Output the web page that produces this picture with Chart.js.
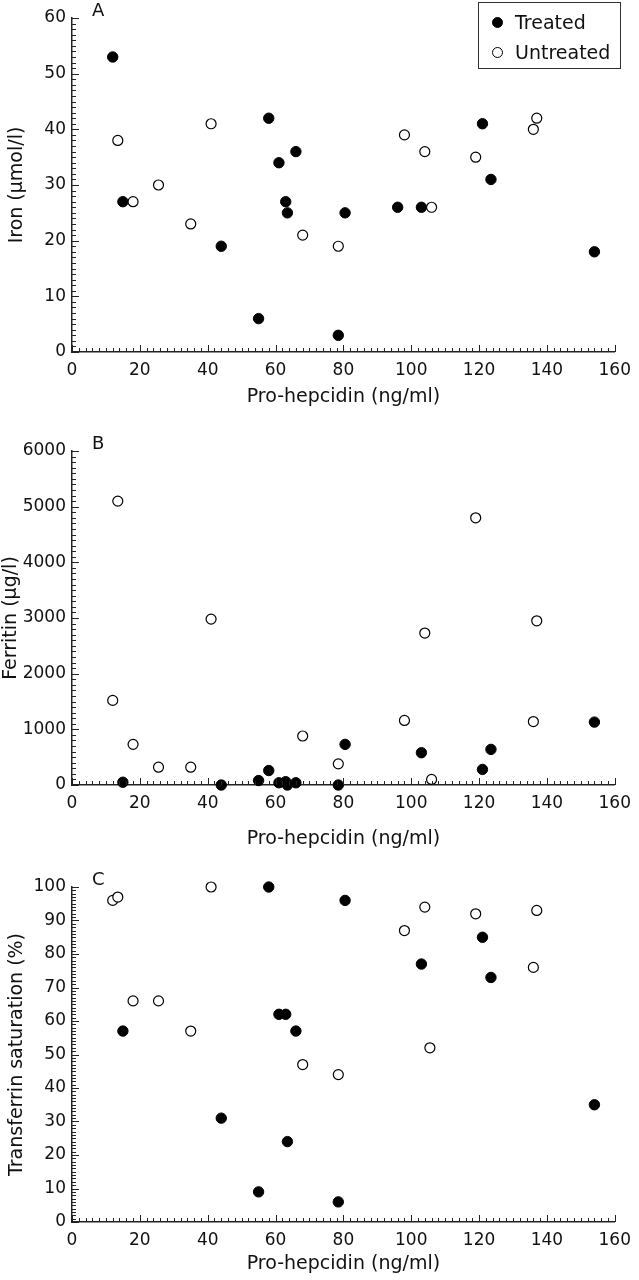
<html>
<head>
<style>
  body { margin: 0; background: #fff; }
  canvas { position: absolute; left: 0; }
  #legend { position: absolute; left: 478px; top: 2px; width: 141px; height: 65px;
            border: 1.5px solid #333; font-family: "DejaVu Sans"; font-size: 19px; color: #111; }
  #legend div { position: absolute; left: 36px; }
  #legend span { position: absolute; left: -23px; width: 9px; height: 9px; border-radius: 50%;
                 border: 1.2px solid #000; }
</style>
</head>
<body>
<canvas id="chartA" width="639" height="420" style="top:0"></canvas>
<canvas id="chartB" width="639" height="430" style="top:433px"></canvas>
<canvas id="chartC" width="639" height="411" style="top:869px"></canvas>
<div id="legend">
  <div style="top:8px"><span style="background:#000;top:6px"></span>Treated</div>
  <div style="top:38px"><span style="background:#fff;top:6px"></span>Untreated</div>
</div>

<script src="https://cdn.jsdelivr.net/npm/chart.js"></script>
<script>
// Panel A: iron vs pro-hepcidin
const ironTreatedX   = [12, 15, 44, 55, 58, 61, 63, 63.5, 66, 78.5, 80.5, 96, 103, 121, 123.5, 154];
const ironTreatedY   = [53, 27, 19, 6, 42, 34, 27, 25, 36, 3, 25, 26, 26, 41, 31, 18];
const ironUntreatedX = [13.5, 18, 25.5, 35, 41, 68, 78.5, 98, 104, 106, 119, 136, 137];
const ironUntreatedY = [38, 27, 30, 23, 41, 21, 19, 39, 36, 26, 35, 40, 42];

// Panel B: ferritin vs pro-hepcidin
const ferrTreatedX   = [15, 44, 55, 58, 61, 63, 63.5, 66, 78.5, 80.5, 103, 121, 123.5, 154];
const ferrTreatedY   = [50, 0, 80, 260, 40, 60, 0, 40, 0, 730, 580, 280, 640, 1130];
const ferrUntreatedX = [12, 13.5, 18, 25.5, 35, 41, 68, 78.5, 98, 104, 106, 119, 136, 137];
const ferrUntreatedY = [1520, 5100, 730, 320, 320, 2980, 880, 380, 1160, 2730, 100, 4800, 1140, 2950];

// Panel C: transferrin saturation vs pro-hepcidin
const satTreatedX    = [15, 44, 55, 58, 61, 63, 63.5, 66, 78.5, 80.5, 103, 121, 123.5, 154];
const satTreatedY    = [57, 31, 9, 100, 62, 62, 24, 57, 6, 96, 77, 85, 73, 35];
const satUntreatedX  = [12, 13.5, 18, 25.5, 35, 41, 68, 78.5, 98, 104, 105.5, 119, 136, 137];
const satUntreatedY  = [96, 97, 66, 66, 57, 100, 47, 44, 87, 94, 52, 92, 76, 93];

const xTicks = [0, 20, 40, 60, 80, 100, 120, 140, 160];
const xTitle = 'Pro-hepcidin (ng/ml)';

const FONT = '"DejaVu Sans"';
const INK = '#111';

function pts(xs, ys) {
  return xs.map((x, i) => ({ x: x, y: ys[i] }));
}

// inward axis ticks + panel letter
const innerTicks = {
  id: 'innerTicks',
  afterDraw(chart, args, o) {
    const { ctx, chartArea: a } = chart;
    const sx = chart.scales.x, sy = chart.scales.y;
    ctx.save();
    ctx.strokeStyle = '#222';
    ctx.lineWidth = 1;
    const nx = Math.round((sx.max - sx.min) / o.xMinor);
    for (let i = 0; i <= nx; i++) {
      const v = sx.min + i * o.xMinor;
      const px = Math.round(sx.getPixelForValue(v)) + 0.5;
      const len = (i % o.xSub === 0) ? 7 : 4;
      ctx.beginPath(); ctx.moveTo(px, a.bottom); ctx.lineTo(px, a.bottom - len); ctx.stroke();
    }
    const ny = Math.round((sy.max - sy.min) / o.yMinor);
    for (let i = 0; i <= ny; i++) {
      const v = sy.min + i * o.yMinor;
      const py = Math.round(sy.getPixelForValue(v)) + 0.5;
      const len = (i % o.ySub === 0) ? 7 : 4;
      ctx.beginPath(); ctx.moveTo(a.left, py); ctx.lineTo(a.left + len, py); ctx.stroke();
    }
    ctx.fillStyle = INK;
    ctx.font = '18px ' + FONT;
    ctx.textBaseline = 'alphabetic';
    ctx.fillText(o.letter, a.left + 20, a.top - 2);
    ctx.restore();
  }
};

function makePanel(id, cfg) {
  return new Chart(document.getElementById(id), {
    type: 'scatter',
    data: {
      datasets: [
        { label: 'Untreated', data: cfg.untreated, backgroundColor: '#fff', borderColor: '#000',
          borderWidth: 1.2, pointRadius: 5, pointHoverRadius: 5, clip: false },
        { label: 'Treated', data: cfg.treated, backgroundColor: '#000', borderColor: '#000',
          borderWidth: 1, pointRadius: 5.2, pointHoverRadius: 5.2, clip: false }
      ]
    },
    options: {
      responsive: false,
      animation: false,
      layout: { padding: { top: 18, right: 17, left: 0, bottom: 0 } },
      plugins: {
        legend: { display: false },
        tooltip: { enabled: false },
        innerTicks: { letter: cfg.letter, xMinor: 2, xSub: 10, yMinor: cfg.yMinor, ySub: cfg.ySub }
      },
      scales: {
        x: {
          type: 'linear', min: 0, max: 160,
          afterBuildTicks: s => { s.ticks = xTicks.map(v => ({ value: v })); },
          afterFit: s => { s.height = cfg.xHeight; },
          ticks: { color: INK, font: { family: FONT, size: 17 }, padding: 8, callback: v => String(v) },
          grid: { drawOnChartArea: false, drawTicks: false },
          border: { color: '#222', width: 1.5 },
          title: { display: true, text: xTitle, color: INK, font: { family: FONT, size: 19 },
                   padding: { top: 0, bottom: cfg.xTitlePad } }
        },
        y: {
          type: 'linear', min: 0, max: cfg.yMax,
          afterBuildTicks: s => { s.ticks = cfg.yTicks.map(v => ({ value: v })); },
          afterFit: s => { s.width = 72; },
          ticks: { color: INK, font: { family: FONT, size: 17 }, padding: 6, callback: v => String(v) },
          grid: { drawOnChartArea: false, drawTicks: false },
          border: { color: '#222', width: 1.5 },
          title: { display: true, text: cfg.yTitle, color: INK, font: { family: FONT, size: 19 },
                   padding: { top: cfg.yTitlePad, bottom: 0 } }
        }
      }
    },
    plugins: [innerTicks]
  });
}

makePanel('chartA', {
  letter: 'A', yTitle: 'Iron (μmol/l)', yMax: 60, yTicks: [0, 10, 20, 30, 40, 50, 60],
  yMinor: 1, ySub: 10, xHeight: 68, xTitlePad: 12, yTitlePad: 6,
  treated: pts(ironTreatedX, ironTreatedY), untreated: pts(ironUntreatedX, ironUntreatedY)
});

makePanel('chartB', {
  letter: 'B', yTitle: 'Ferritin (μg/l)', yMax: 6000, yTicks: [0, 1000, 2000, 3000, 4000, 5000, 6000],
  yMinor: 100, ySub: 10, xHeight: 78, xTitlePad: 13, yTitlePad: 0,
  treated: pts(ferrTreatedX, ferrTreatedY), untreated: pts(ferrUntreatedX, ferrUntreatedY)
});

makePanel('chartC', {
  letter: 'C', yTitle: 'Transferrin saturation (%)', yMax: 100,
  yTicks: [0, 10, 20, 30, 40, 50, 60, 70, 80, 90, 100],
  yMinor: 1, ySub: 10, xHeight: 58, xTitlePad: 5, yTitlePad: 6,
  treated: pts(satTreatedX, satTreatedY), untreated: pts(satUntreatedX, satUntreatedY)
});
</script>
</body>
</html>
